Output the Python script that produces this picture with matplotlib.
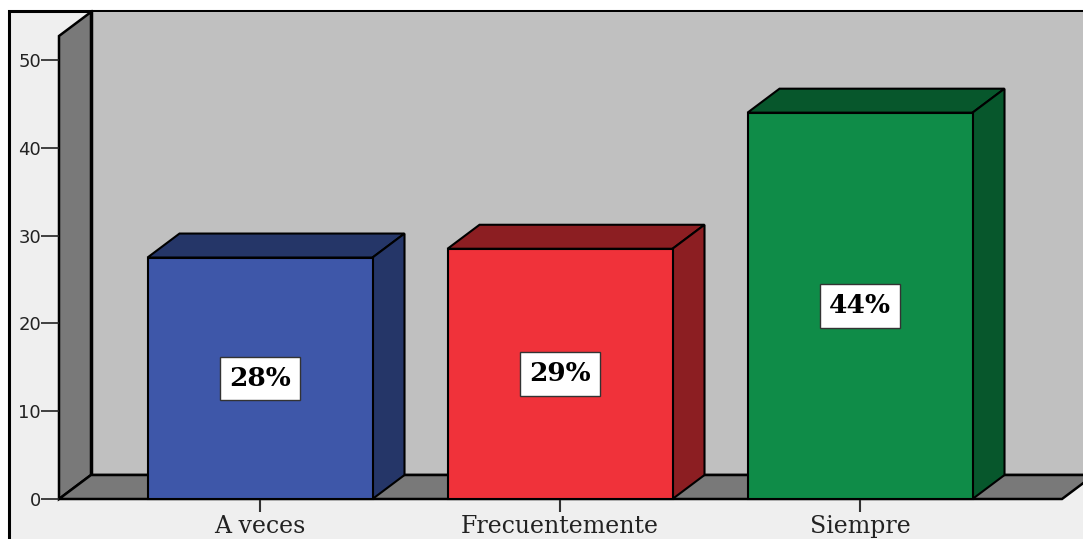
import matplotlib
matplotlib.use("Agg")
import matplotlib.pyplot as plt
from matplotlib.patches import Rectangle, Polygon

categories = ["A veces", "Frecuentemente", "Siempre"]
values = [27.5, 28.5, 44.0]
pct_labels = ["28%", "29%", "44%"]
y_ticks = [0, 10, 20, 30, 40, 50]

front_colors = ["#3e57a9", "#f0323a", "#0f8c48"]
dark_colors = ["#253668", "#8c1e22", "#07572c"]

W, H = 1083, 539
fig = plt.figure(figsize=(W / 100, H / 100), dpi=100, facecolor="white")

# outer frame (light grey panel)
fig.add_artist(Rectangle((9 / W, -0.05), 1.2, (H - 11) / H + 0.05,
                         transform=fig.transFigure, facecolor="#efefef",
                         edgecolor="black", lw=2.2, zorder=0))

# axes placed on the front plane of the 3D box
ax = fig.add_axes([59 / W, 40 / H, (1062 - 59) / W, 463 / H])
ax.patch.set_visible(False)
for s in ax.spines.values():
    s.set_visible(False)

xmin, xmax = -0.67, 2.6733
ymin, ymax = 0, 463 / 8.78
ax.set_xlim(xmin, xmax)
ax.set_ylim(ymin, ymax)

# depth offset in data units
ddx = 32 / 300
ddy = 24 / 8.78
bw = 0.75

# back wall
ax.add_patch(Rectangle((xmin + ddx, ddy), 5, ymax, facecolor="#c0c0c0",
                       edgecolor="none", clip_on=False, zorder=0.5))
ax.plot([xmin + ddx, xmin + ddx, xmax + 1], [ymax + ddy, ddy, ddy],
        color="black", lw=2.5, clip_on=False, zorder=0.6)

# left wall
ax.add_patch(Polygon([(xmin, 0), (xmin, ymax), (xmin + ddx, ymax + ddy),
                      (xmin + ddx, ddy)], closed=True, facecolor="#797979",
                     edgecolor="black", lw=1.8, clip_on=False, zorder=0.7))

# floor
ax.add_patch(Polygon([(xmin, 0), (xmax, 0), (xmax + ddx, ddy),
                      (xmin + ddx, ddy)], closed=True, facecolor="#797979",
                     edgecolor="black", lw=1.8, clip_on=False, zorder=0.7))

# bars
for i, v in enumerate(values):
    x0, x1 = i - bw / 2, i + bw / 2
    ax.add_patch(Polygon([(x0, v), (x1, v), (x1 + ddx, v + ddy), (x0 + ddx, v + ddy)],
                         closed=True, facecolor=dark_colors[i], edgecolor="black",
                         lw=1.5, clip_on=False, zorder=2))
    ax.add_patch(Polygon([(x1, 0), (x1 + ddx, ddy), (x1 + ddx, v + ddy), (x1, v)],
                         closed=True, facecolor=dark_colors[i], edgecolor="black",
                         lw=1.5, clip_on=False, zorder=2))
    ax.add_patch(Rectangle((x0, 0), bw, v, facecolor=front_colors[i],
                           edgecolor="black", lw=1.5, clip_on=False, zorder=2.1))
    ax.text(i, v / 2, pct_labels[i], ha="center", va="center",
            fontfamily="DejaVu Serif", fontweight="bold", fontsize=19,
            color="black", zorder=5,
            bbox=dict(boxstyle="square,pad=0.35", facecolor="white",
                      edgecolor="#333333", lw=1))

ax.set_xticks(range(len(categories)))
ax.set_xticklabels(categories, fontfamily="DejaVu Serif", fontsize=17, color="#222222")
ax.set_yticks(y_ticks)
ax.set_yticklabels([str(t) for t in y_ticks], fontfamily="DejaVu Sans",
                   fontsize=13, color="#222222")
ax.tick_params(axis="x", length=9.5, width=1.5, color="#333333", pad=2)
ax.tick_params(axis="y", length=13, width=1.2, color="#222222", pad=0)

fig.savefig("out.png", dpi=100)
